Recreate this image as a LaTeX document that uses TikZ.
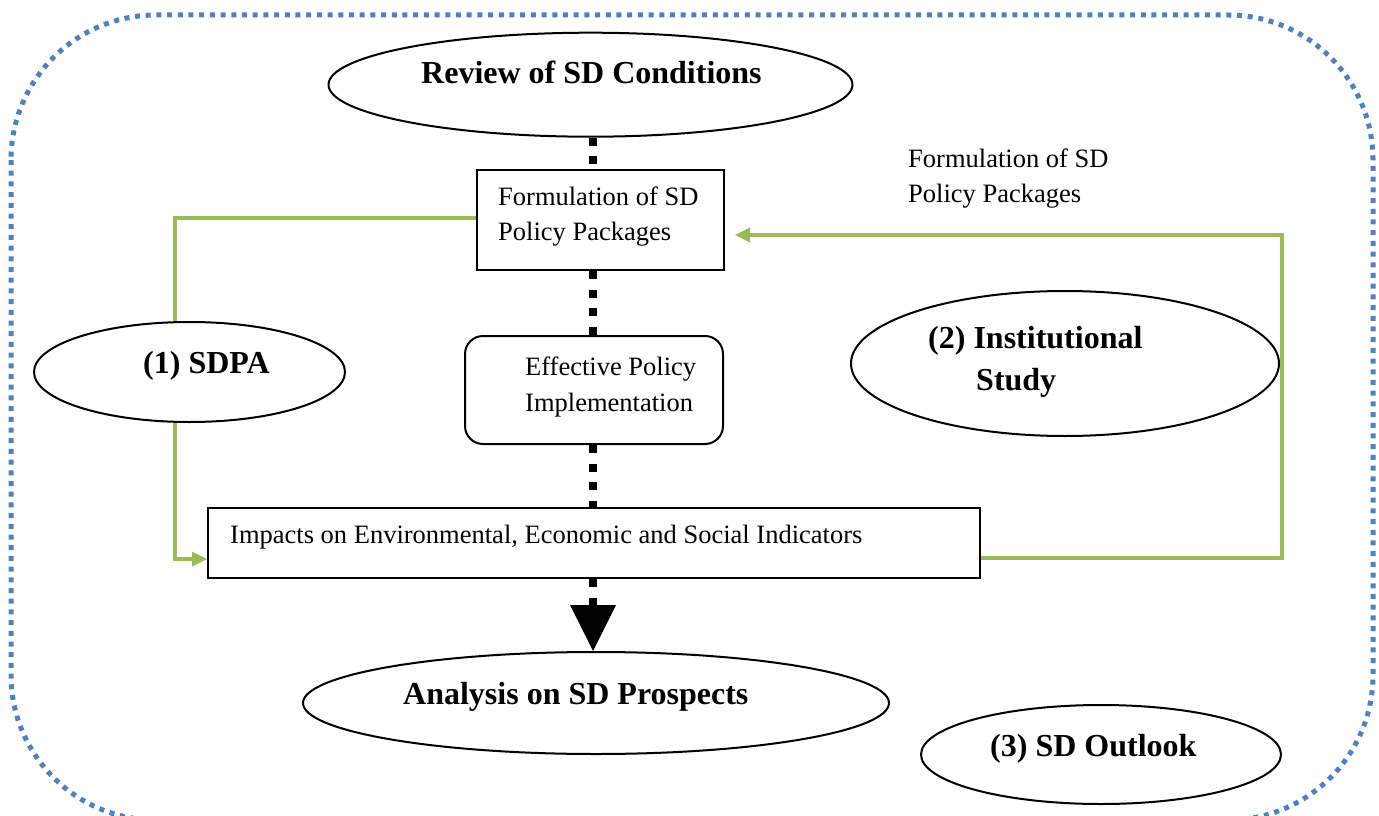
\documentclass[tikz,border=0pt]{standalone}
\usepackage{fontspec}
\setmainfont{Liberation Serif}
\usetikzlibrary{arrows.meta,shapes.geometric}
\definecolor{bordblue}{RGB}{79,129,189}
\definecolor{lgreen}{RGB}{155,187,89}
\begin{document}
\begin{tikzpicture}[x=1pt,y=-1pt,
  box/.style={draw=black,line width=2pt,inner sep=0pt},
  oval/.style={draw=black,line width=2pt,ellipse,inner sep=0pt},
  txt/.style={anchor=base west,inner sep=0pt,font=\fontsize{26.5}{35}\selectfont},
  btxt/.style={anchor=base west,inner sep=0pt,font=\fontsize{32}{42}\selectfont\bfseries},
  flow/.style={line width=8pt,dash pattern=on 8pt off 10.5pt},
  gline/.style={draw=lgreen,line width=4.5pt},
  garrow/.style={gline,-{Triangle[length=15pt,width=15pt,line width=0pt]}},
]
\useasboundingbox (0,0) rectangle (1379,816);
\clip (0,0) rectangle (1379,816);
\draw[bordblue,line width=5pt,dash pattern=on 5pt off 5.7pt,rounded corners=145pt] (11,15) rectangle (1373,820);

% shapes
\node[oval,minimum width=524pt,minimum height=104pt] (rev) at (590.5,84.7) {};
\node[box,minimum width=247pt,minimum height=100pt] (form) at (600.5,220) {};
\node[box,rounded corners=18pt,minimum width=258pt,minimum height=108pt] (eff) at (594,390) {};
\node[box,minimum width=772pt,minimum height=70pt] (imp) at (594,543) {};
\node[oval,minimum width=586pt,minimum height=102pt] (ana) at (596,703) {};
\node[oval,minimum width=311pt,minimum height=100pt] (sdpa) at (189.5,372) {};
\node[oval,minimum width=428pt,minimum height=145pt] (inst) at (1065,363.5) {};
\node[oval,minimum width=360pt,minimum height=99pt] (outl) at (1101,754.5) {};

% texts
\node[btxt] (revt) at (421,84) {Review of SD Conditions};
\node[txt] (form1) at (498,205) {Formulation of SD};
\node[txt] (form2) at (498,240) {Policy Packages};
\node[txt] (eff1) at (525,375) {Effective Policy};
\node[txt] (eff2) at (525,411) {Implementation};
\node[txt] (impt) at (230,543) {Impacts on Environmental, Economic and Social Indicators};
\node[btxt] (anat) at (403,704) {Analysis on SD Prospects};
\node[btxt] (sdpat) at (143,373) {(1) SDPA};
\node[btxt] (inst1) at (928,348) {(2) Institutional};
\node[btxt] (inst2) at (976,390) {Study};
\node[btxt] (outlt) at (990,756) {(3) SD Outlook};
\node[txt] (rt1) at (908,167) {Formulation of SD};
\node[txt] (rt2) at (908,202) {Policy Packages};

% black dotted flow, along one vertical axis
\coordinate (ax) at (593,0);
\draw[flow] (rev.south -| ax) -- (form.north -| ax);
\draw[flow] (form.south -| ax) -- (eff.north -| ax);
\draw[flow] (eff.south -| ax) -- (imp.north -| ax);
\draw[flow,-{Triangle[length=46pt,width=46pt,line width=0pt]}] (imp.south -| ax) -- (ana.north -| ax);

% green connectors
\coordinate (sdtop) at ([xshift=-14.5pt]sdpa.north);
\coordinate (sdbot) at ([xshift=-14.5pt]sdpa.south);
\coordinate (rc) at (1282,235);
\draw[gline] ([yshift=2pt]form.west) -| (sdtop);
\draw[garrow] (sdbot) |- ([yshift=-16pt]imp.west);
\draw[garrow] ([yshift=-15pt]imp.east) -| (rc) -- ([xshift=10pt,yshift=-15pt]form.east);
\end{tikzpicture}
\end{document}
